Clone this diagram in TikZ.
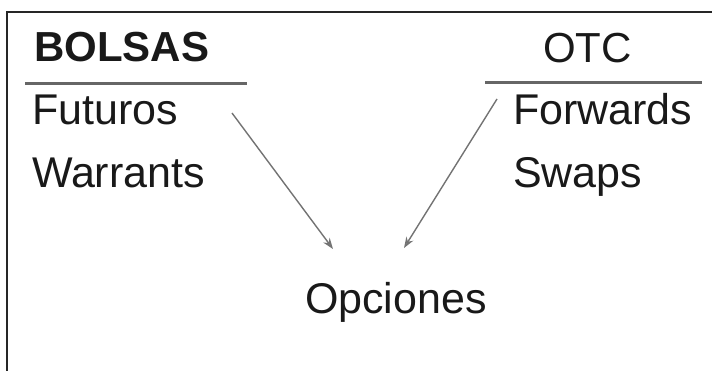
\documentclass[tikz,border=0pt]{standalone}
\usepackage{fontspec}
\setmainfont{Liberation Sans}
\usetikzlibrary{arrows.meta}
\begin{document}
\begin{tikzpicture}[x=1pt,y=-1pt,
  label/.style={anchor=base west,inner sep=0pt,outer sep=0pt,
    font=\fontsize{43}{50}\selectfont,text=black!90},
  heading/.style={label,font=\fontsize{42}{50}\selectfont},
  rule/.style={line width=3pt,draw=black!60},
  frame/.style={line width=1.8pt,draw=black!85},
  link/.style={line width=1.4pt,draw=black!55,
    -{Stealth[length=11pt,width=8pt,fill=black!45]}}]
  \useasboundingbox (0,0) rectangle (712,371);
  % outer frame (top and left edges)
  \draw[frame] (712,12) -- (7,12) -- (7,371);
  % column headings and rules
  \node[heading,font=\fontsize{42}{50}\selectfont\bfseries] (bolsas) at (34,62) {BOLSAS};
  \node[heading] (otc) at (543,63) {OTC};
  \draw[rule] (25,84) -- (247,84);
  \draw[rule] (485,83) -- (702,83);
  % instruments
  \node[label] (futuros) at (32,125) {Futuros};
  \node[label] (warrants) at (32,188) {Warrants};
  \node[label] (forwards) at (513,125) {Forwards};
  \node[label] (swaps) at (513,188) {Swaps};
  \node[label] (opciones) at (305,313) {Opciones};
  % arrows into the common instrument
  \coordinate (fromL) at (232,113);
  \coordinate (fromR) at (497,99);
  \coordinate (toL) at (333,249);
  \coordinate (toR) at (404,248);
  \draw[link] (fromL) -- (toL);
  \draw[link] (fromR) -- (toR);
\end{tikzpicture}
\end{document}
